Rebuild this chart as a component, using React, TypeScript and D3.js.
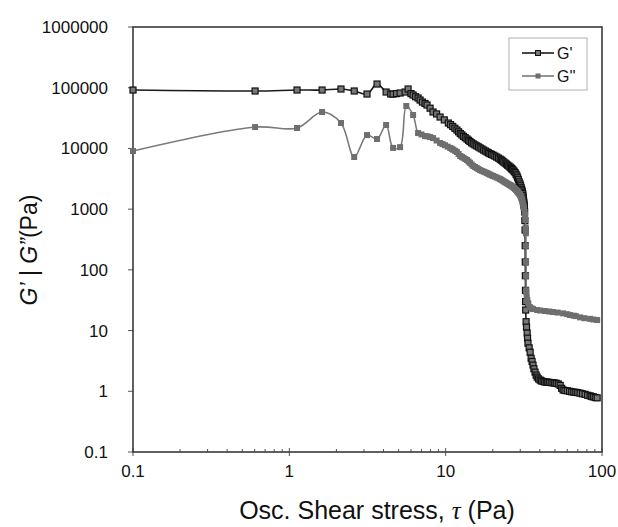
import * as d3 from "d3";
import { useEffect, useRef } from "react";

// G' (storage modulus)
const gPrimeStress = [
    0.1, 0.604, 1.12, 1.62, 2.14, 2.6, 3.14, 3.64, 4.16, 4.45, 4.61, 4.85, 5.11, 5.5, 5.75, 6.0, 6.19, 6.42, 6.66,
    6.86, 7.1, 7.38, 7.6, 7.95, 8.3, 8.75, 9.21, 9.8, 10.4, 10.75, 11.1, 11.45, 11.8, 12.1, 12.4, 12.7, 13.0,
    13.35, 13.7, 14.0, 14.3, 14.65, 15.0, 15.4, 15.8, 16.2, 16.6, 17.05, 17.5, 17.95, 18.4, 18.8, 19.2, 19.65,
    20.1, 20.65, 21.2, 21.75, 22.3, 22.7, 23.1, 23.55, 24.0, 24.45, 24.9, 25.35, 25.8, 26.1, 26.4, 26.7, 27.0,
    27.4, 27.8, 28.2, 28.6, 28.9, 29.2, 29.55, 29.9, 30.15, 30.4, 30.6, 30.8, 30.95, 31.1, 31.2, 31.3, 31.4, 31.5,
    31.6, 31.7, 31.8, 31.9, 32.0, 32.1, 32.2, 32.25, 32.3, 32.35, 32.4, 32.45, 32.5, 32.7, 32.9, 33.2, 33.4, 33.6,
    34.2, 34.7, 35.2, 35.7, 36.2, 36.7, 37.3, 37.9, 38.5, 39.3, 40.2, 41.0, 42.0, 43.0, 44.0, 45.0, 46.0, 47.3,
    48.6, 49.8, 51.0, 52.5, 54.0, 55.2, 56.4, 58.0, 60.0, 62.0, 64.0, 66.0, 68.0, 70.0, 72.4, 75.0, 78.0, 81.0,
    84.0, 86.0, 88.0, 90.5, 93.1,
];
const gPrimeValues = [
    91600, 88300, 91600, 91600, 95200, 88300, 78700, 115000, 84900, 78700, 78700, 80000, 81800, 84900, 95200,
    80000, 75800, 71000, 67600, 62700, 58100, 55000, 51900, 46000, 39800, 37000, 32900, 29500, 26200, 24600,
    23000, 21500, 20100, 18800, 17600, 16700, 15800, 15000, 14300, 13600, 13000, 12400, 11900, 11400, 11000,
    10600, 10200, 9800, 9400, 9050, 8730, 8450, 8200, 7980, 7760, 7480, 7200, 6920, 6650, 6420, 6200, 5970, 5740,
    5520, 5300, 5120, 4940, 4800, 4650, 4520, 4400, 4200, 4000, 3760, 3520, 3280, 3050, 2810, 2590, 2420, 2250,
    2120, 2000, 1900, 1800, 1690, 1580, 1480, 1380, 1290, 1210, 1130, 1050, 900, 650, 453, 250, 135, 80, 46, 30,
    21.8, 14, 11.4, 9.1, 7.5, 6.2, 5.2, 4.4, 3.5, 3.1, 2.7, 2.35, 2.07, 1.85, 1.71, 1.6, 1.53, 1.48, 1.45, 1.43,
    1.42, 1.41, 1.4, 1.39, 1.38, 1.37, 1.35, 1.32, 1.25, 1.12, 1.05, 1.03, 1.02, 1.0, 0.98, 0.97, 0.96, 0.95,
    0.93, 0.91, 0.89, 0.86, 0.84, 0.82, 0.81, 0.79, 0.78,
];

// G'' (loss modulus)
const gDoubleStress = [
    0.1, 0.604, 1.12, 1.62, 2.14, 2.6, 3.14, 3.64, 4.16, 4.61, 5.11, 5.6, 6.19, 6.66, 7.0, 7.38, 7.65, 7.95, 8.3,
    8.75, 9.21, 9.55, 9.9, 10.3, 10.7, 10.95, 11.2, 11.5, 11.8, 12.1, 12.4, 12.7, 13.0, 13.35, 13.7, 14.0, 14.3,
    14.65, 15.0, 15.4, 15.8, 16.2, 16.6, 17.05, 17.5, 17.95, 18.4, 18.8, 19.2, 19.65, 20.1, 20.65, 21.2, 21.75,
    22.3, 22.7, 23.1, 23.55, 24.0, 24.45, 24.9, 25.35, 25.8, 26.1, 26.4, 26.7, 27.0, 27.4, 27.8, 28.2, 28.6, 28.9,
    29.2, 29.55, 29.9, 30.15, 30.4, 30.6, 30.8, 31.0, 31.2, 31.45, 31.7, 32.0, 32.2, 32.4, 32.5, 32.6, 32.65,
    32.7, 32.72, 32.75, 32.8, 33.0, 33.3, 33.8, 34.5, 35.5, 36.2, 38.5, 40.2, 43.3, 46.0, 48.6, 52.0, 56.4, 60.0,
    62.5, 66.0, 68.0, 72.4, 77.0, 83.9, 88.0, 93.1,
];
const gDoubleValues = [
    9060, 22500, 21700, 39800, 26200, 7220, 16600, 14300, 24300, 10200, 10500, 50000, 35500, 17900, 17000, 16000,
    15800, 15400, 14800, 13500, 12300, 11800, 11300, 10700, 10200, 9850, 9500, 9100, 8730, 8100, 7500, 7250, 7000,
    6700, 6440, 6100, 5800, 5450, 5150, 4950, 4750, 4570, 4400, 4270, 4150, 4040, 3930, 3810, 3700, 3610, 3520,
    3420, 3320, 3220, 3130, 3040, 2950, 2860, 2780, 2700, 2620, 2560, 2500, 2450, 2400, 2350, 2310, 2230, 2150,
    2070, 2000, 1930, 1860, 1790, 1720, 1640, 1560, 1480, 1410, 1310, 1220, 1130, 1040, 900, 800, 661, 500, 400,
    250, 135, 80, 46, 43, 35.6, 31.8, 28, 24.4, 23.2, 22.6, 21.8, 21.4, 21.0, 20.6, 20.2, 19.8, 19.2, 18.6, 18.0,
    17.6, 17.3, 16.5, 16.0, 15.6, 15.2, 14.9,
];

const xTicks = [0.1, 1, 10, 100];
const yTicks = [0.1, 1, 10, 100, 1000, 10000, 100000, 1000000];
const seriesNames = ["G'", "G''"];

const width = 618;
const height = 527;
const left = 133;
const right = 602;
const top = 27;
const bottom = 452;

export default function App() {
    const svgRef = useRef<SVGSVGElement>(null);

    useEffect(() => {
        if (svgRef.current) {
            drawChart();
        }
    }, [svgRef]);

    const drawChart = () => {
        const svg = d3.select(svgRef.current);
        svg.selectAll("*").remove();

        const scaleX = d3.scaleLog().domain([0.1, 100]).range([left, right]);
        const scaleY = d3.scaleLog().domain([0.1, 1000000]).range([bottom, top]);

        const font = "'Liberation Sans', Arial, sans-serif";

        // minor ticks on x axis (inside)
        const minor: number[] = [];
        [0.1, 1, 10].forEach((d) => {
            for (let k = 2; k <= 9; k++) minor.push(d * k);
        });
        svg.append("g")
            .selectAll("line")
            .data(minor)
            .join("line")
            .attr("x1", (d) => scaleX(d))
            .attr("x2", (d) => scaleX(d))
            .attr("y1", bottom)
            .attr("y2", bottom - 3)
            .attr("stroke", "#555")
            .attr("stroke-width", 1);

        // major ticks
        svg.append("g")
            .selectAll("line")
            .data(xTicks)
            .join("line")
            .attr("x1", (d) => scaleX(d))
            .attr("x2", (d) => scaleX(d))
            .attr("y1", bottom - 4)
            .attr("y2", bottom + 4)
            .attr("stroke", "#555");
        svg.append("g")
            .selectAll("line")
            .data(yTicks)
            .join("line")
            .attr("x1", left - 5)
            .attr("x2", left)
            .attr("y1", (d) => scaleY(d))
            .attr("y2", (d) => scaleY(d))
            .attr("stroke", "#555");

        // frame
        svg.append("rect")
            .attr("x", left)
            .attr("y", top)
            .attr("width", right - left)
            .attr("height", bottom - top)
            .attr("fill", "none")
            .attr("stroke", "#3a3a3a")
            .attr("stroke-width", 1.6);

        // tick labels
        svg.append("g")
            .selectAll("text")
            .data(xTicks)
            .join("text")
            .attr("x", (d) => scaleX(d))
            .attr("y", 477)
            .attr("text-anchor", "middle")
            .attr("font-family", font)
            .attr("font-size", 17)
            .attr("fill", "#111")
            .text((d) => `${d}`);
        svg.append("g")
            .selectAll("text")
            .data(yTicks)
            .join("text")
            .attr("x", 108)
            .attr("y", (d) => scaleY(d) + 6)
            .attr("text-anchor", "end")
            .attr("font-family", font)
            .attr("font-size", 17)
            .attr("fill", "#111")
            .text((d) => `${d}`);

        // axis titles
        const xt = svg
            .append("text")
            .attr("x", 377)
            .attr("y", 519)
            .attr("text-anchor", "middle")
            .attr("font-family", font)
            .attr("font-size", 25)
            .attr("fill", "#111");
        xt.append("tspan").text("Osc. Shear stress, ");
        xt.append("tspan").attr("font-family", "'Liberation Serif', serif").attr("font-style", "italic").text("τ");
        xt.append("tspan").text(" (Pa)");

        const yt = svg
            .append("text")
            .attr("transform", "translate(37,250) rotate(-90)")
            .attr("text-anchor", "middle")
            .attr("font-family", font)
            .attr("font-size", 23)
            .attr("fill", "#111");
        yt.append("tspan").attr("font-style", "italic").text("G’");
        yt.append("tspan").text(" | ");
        yt.append("tspan").attr("font-style", "italic").text("G”");
        yt.append("tspan").text("(Pa)");

        const line = d3
            .line<[number, number]>()
            .x((d) => scaleX(d[0]))
            .y((d) => scaleY(d[1]))
            .curve(d3.curveCatmullRom);

        const gp: [number, number][] = gPrimeStress.map((x, i) => [x, gPrimeValues[i]]);
        const gpp: [number, number][] = gDoubleStress.map((x, i) => [x, gDoubleValues[i]]);

        const s = 6;
        // G' series
        svg.append("path")
            .datum(gp)
            .attr("fill", "none")
            .attr("stroke", "#1a1a1a")
            .attr("stroke-width", 1.6)
            .attr("d", line);
        svg.append("g")
            .selectAll("rect")
            .data(gp)
            .join("rect")
            .attr("x", (d) => scaleX(d[0]) - s / 2)
            .attr("y", (d) => scaleY(d[1]) - s / 2)
            .attr("width", s)
            .attr("height", s)
            .attr("fill", "#777")
            .attr("stroke", "#111")
            .attr("stroke-width", 1.2);

        // G'' series
        svg.append("path")
            .datum(gpp)
            .attr("fill", "none")
            .attr("stroke", "#7a7a7a")
            .attr("stroke-width", 1.6)
            .attr("d", line);
        svg.append("g")
            .selectAll("rect")
            .data(gpp)
            .join("rect")
            .attr("x", (d) => scaleX(d[0]) - s / 2)
            .attr("y", (d) => scaleY(d[1]) - s / 2)
            .attr("width", s)
            .attr("height", s)
            .attr("fill", "#6e6e6e");

        // legend
        const legend = svg.append("g");
        legend
            .append("rect")
            .attr("x", 509)
            .attr("y", 38)
            .attr("width", 78)
            .attr("height", 52)
            .attr("fill", "white")
            .attr("stroke", "#b0b0b0");
        seriesNames.forEach((name, i) => {
            const y = 53 + i * 23;
            legend
                .append("line")
                .attr("x1", 522)
                .attr("x2", 554)
                .attr("y1", y)
                .attr("y2", y)
                .attr("stroke", i === 0 ? "#1a1a1a" : "#7a7a7a")
                .attr("stroke-width", 1.6);
            legend
                .append("rect")
                .attr("x", 538 - 2.5)
                .attr("y", y - 2.5)
                .attr("width", 5)
                .attr("height", 5)
                .attr("fill", i === 0 ? "#777" : "#6e6e6e")
                .attr("stroke", i === 0 ? "#111" : "none");
            legend
                .append("text")
                .attr("x", 557)
                .attr("y", y + 6)
                .attr("font-family", font)
                .attr("font-size", 16)
                .attr("fill", "#111")
                .text(name);
        });
    };

    return (
        <svg
            ref={svgRef}
            width={width}
            height={height}
            style={{ position: "absolute", left: 0, top: 0, background: "white" }}
        />
    );
}
